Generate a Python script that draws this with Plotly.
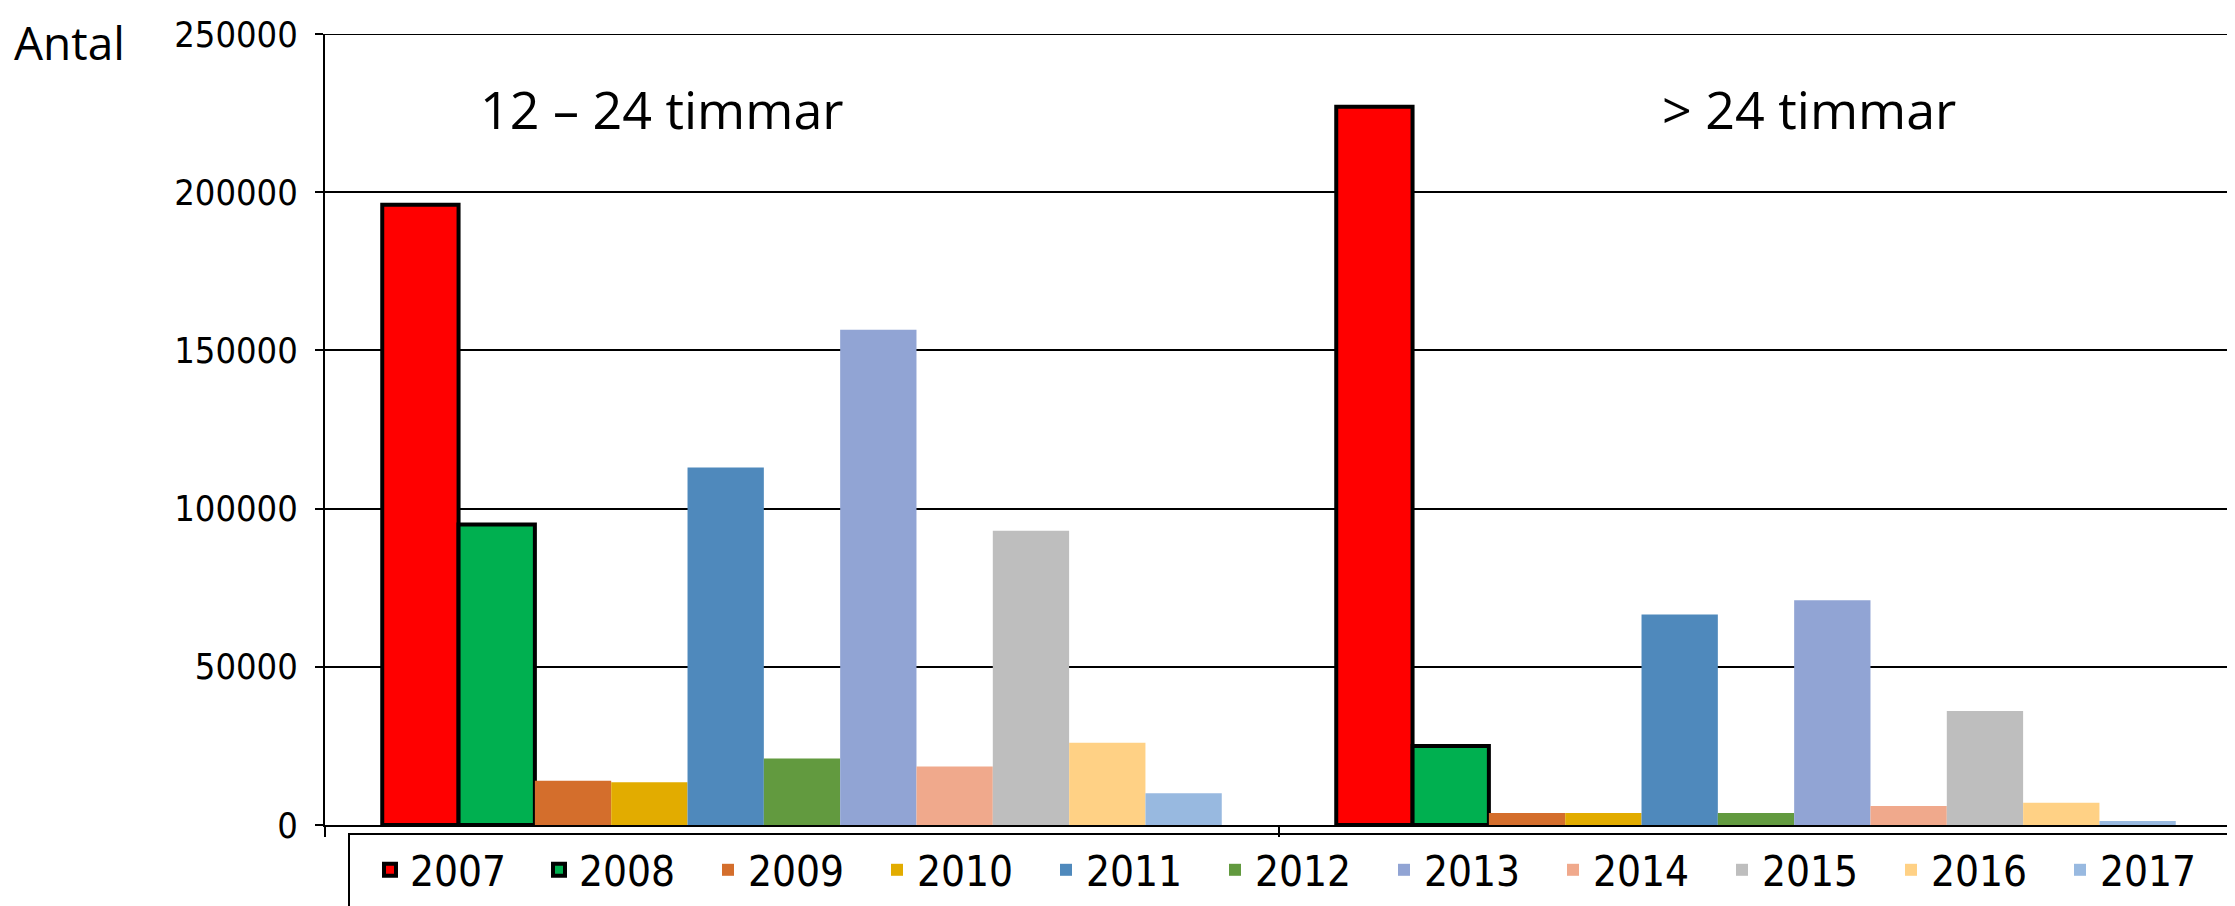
import plotly.graph_objects as go

categories = ["12 – 24 timmar", "> 24 timmar"]
years = ["2007", "2008", "2009", "2010", "2011", "2012", "2013", "2014", "2015", "2016", "2017"]

v2007 = [196000, 227000]
v2008 = [95000, 25000]
v2009 = [14000, 3800]
v2010 = [13500, 3800]
v2011 = [113000, 66500]
v2012 = [21000, 3800]
v2013 = [156500, 71000]
v2014 = [18500, 6000]
v2015 = [93000, 36000]
v2016 = [26000, 7000]
v2017 = [10000, 1300]

series = [v2007, v2008, v2009, v2010, v2011, v2012, v2013, v2014, v2015, v2016, v2017]
colors = ["#FF0000", "#00B050", "#D46E2C", "#E2AC00", "#4F89BC", "#629A3F",
          "#91A4D4", "#F0A98C", "#BEBEBE", "#FFD185", "#98B9E0"]
outlined = ["2007", "2008"]
y_max = 250000

NARROW = "DejaVu Sans Condensed, Liberation Sans, Arial, sans-serif"
TEXTF = "Open Sans, Noto Sans, DejaVu Sans, sans-serif"

fig = go.Figure()
for yr, vals, col in zip(years, series, colors):
    lw = 4 if yr in outlined else 0
    fig.add_trace(go.Bar(
        x=categories, y=vals, name=yr,
        marker=dict(color=col, line=dict(color="black", width=lw)),
    ))

OFF = 8  # page body margin
W, H = 2235 - OFF, 906 - OFF
L, R, T, B = 317, 2, 26, 81
pw, ph = W - L - R, H - T - B

def px_x(x):  # page pixel -> paper fraction
    return (x - OFF - L) / pw

def px_y(y):
    return (H - B - (y - OFF)) / ph

fig.update_layout(
    width=W, height=H,
    margin=dict(l=L, r=R, t=T, b=B, pad=0, autoexpand=False),
    paper_bgcolor="white", plot_bgcolor="white",
    barmode="group", bargap=0.12, bargroupgap=0,
    showlegend=True,
    legend=dict(
        orientation="h", x=px_x(370), y=px_y(836), xanchor="left", yanchor="top",
        font=dict(family=NARROW, size=42, color="black"),
        entrywidth=124, bgcolor="rgba(0,0,0,0)", traceorder="normal",
    ),
    xaxis=dict(
        type="category", showticklabels=False, showline=True, linecolor="black",
        linewidth=2, ticks="outside", tickson="boundaries", ticklen=10,
        tickwidth=2, tickcolor="black", showgrid=False, zeroline=False,
    ),
    yaxis=dict(
        range=[0, y_max], dtick=50000, tickformat="d",
        showline=True, linecolor="black", linewidth=2,
        ticks="outside", ticklen=8, tickwidth=2, tickcolor="black",
        ticklabelstandoff=10,
        showgrid=True, gridcolor="black", gridwidth=2, zeroline=False,
        tickfont=dict(family=NARROW, size=36, color="black"),
    ),
    shapes=[
        dict(type="rect", xref="paper", yref="paper",
             x0=px_x(349), x1=px_x(2232), y0=px_y(834), y1=px_y(950),
             line=dict(color="black", width=2), fillcolor="rgba(0,0,0,0)"),
        dict(type="line", xref="paper", yref="y", x0=0, x1=1, y0=y_max, y1=y_max,
             line=dict(color="black", width=2)),
    ],
    annotations=[
        dict(text=categories[0], xref="paper", yref="paper", x=px_x(662), y=px_y(108),
             showarrow=False, xanchor="center", yanchor="middle",
             font=dict(family=TEXTF, size=52, color="black")),
        dict(text=categories[1], xref="paper", yref="paper", x=px_x(1809), y=px_y(108),
             showarrow=False, xanchor="center", yanchor="middle",
             font=dict(family=TEXTF, size=52, color="black")),
        dict(text="Antal", xref="paper", yref="paper", x=px_x(12), y=px_y(OFF + 1),
             showarrow=False, xanchor="left", yanchor="top",
             font=dict(family=TEXTF, size=46, color="black")),
    ],
)

fig.write_html("out.html")
